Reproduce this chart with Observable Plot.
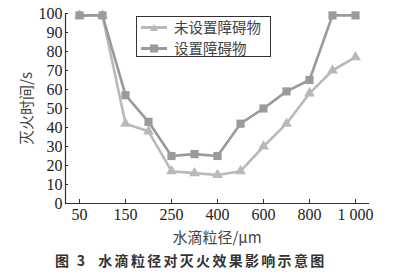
<!DOCTYPE html>
<html><head><meta charset="utf-8">
<script src="https://cdn.jsdelivr.net/npm/d3@7"></script>
<script src="https://cdn.jsdelivr.net/npm/@observablehq/plot@0.6"></script>
<style>
body{margin:0;background:#fff;}
#wrap{position:relative;width:414px;height:274px;font-family:"Liberation Serif","Noto Sans CJK SC",serif;}
#legend{position:absolute;left:136px;top:16px;width:133px;height:39px;border:1px solid #333;background:#fff;font-family:"Noto Sans CJK SC",sans-serif;font-size:14.5px;line-height:16px;color:#444;}
#legend .row{position:absolute;left:4px;height:16px;display:flex;align-items:center;}
#legend span{display:inline-block;height:16px;line-height:16px;overflow:visible;}
#legend svg{margin-right:7px;}
#cap{position:absolute;left:55px;top:251px;font-family:"Noto Sans CJK SC",sans-serif;font-weight:bold;font-size:14px;line-height:18px;color:#333;letter-spacing:2.3px;white-space:pre;}
</style></head>
<body><div id="wrap"></div>
<script>
const sizes = [50,100,150,200,250,300,400,500,600,700,800,900,1000];
const noObstacle = [99,99,42,38,17,16,15,17,30,42,58,70,77];
const withObstacle = [99,99,57,43,25,26,25,42,50,59,65,99,99];
const xTicks = [50,150,250,400,600,800,1000];
const yTicks = [0,10,20,30,40,50,60,70,80,90,100];
const seriesNames = ["未设置障碍物","设置障碍物"];
const colors = ["#b9b9b9","#9a9a9a"];

const d1 = sizes.map((s,i)=>({s, v:noObstacle[i]}));
const d2 = sizes.map((s,i)=>({s, v:withObstacle[i]}));

const chart = Plot.plot({
  width:414, height:250,
  marginTop:13, marginBottom:47, marginLeft:65, marginRight:46,
  style:{fontFamily:"'Liberation Serif','Noto Sans CJK SC',serif", fontSize:"16px", color:"#222", background:"#fff"},
  x:{type:"point", domain:sizes, padding:0.5},
  y:{domain:[0,100]},
  marks:[
    Plot.frame({anchor:"left", stroke:"#333", strokeWidth:1.2}),
    Plot.frame({anchor:"bottom", stroke:"#333", strokeWidth:1.2}),
    Plot.axisY({ticks:yTicks, tickSize:-3, tickPadding:6, stroke:"#333", label:"灭火时间/s", labelAnchor:"center", labelArrow:"none", labelOffset:44, fontSize:16}),
    Plot.axisX({ticks:xTicks, tickSize:-4, tickPadding:9, stroke:"#333", tickFormat:d=>d===1000?"1 000":String(d), label:"水滴粒径/μm", labelAnchor:"center", labelArrow:"none", labelOffset:39, fontSize:16}),
    Plot.line(d1,{x:"s",y:"v",stroke:colors[0],strokeWidth:2.6}),
    Plot.dot(d1,{x:"s",y:"v",symbol:"triangle",fill:colors[0],r:4}),
    Plot.line(d2,{x:"s",y:"v",stroke:colors[1],strokeWidth:2.6}),
    Plot.dot(d2,{x:"s",y:"v",symbol:"square",fill:colors[1],r:4.6})
  ]
});
const wrap = document.getElementById("wrap");
wrap.appendChild(chart);
chart.querySelectorAll("[aria-label='y-axis label'] text, [aria-label='x-axis label'] text").forEach(t=>{t.style.fill="#444";t.style.fontFamily="'Noto Sans CJK SC',sans-serif";t.style.fontSize="15px";});

const leg = document.createElement("div"); leg.id="legend";
seriesNames.forEach((n,i)=>{
  const row=document.createElement("div"); row.className="row"; row.style.top=(i===0?2:23)+"px";
  const sym = i===0 ? `<polygon points="13,2 17,9 9,9" fill="${colors[0]}"/>` : `<rect x="9" y="1.5" width="8" height="8" fill="${colors[1]}"/>`;
  row.innerHTML=`<svg width="26" height="11"><line x1="0" x2="26" y1="5.5" y2="5.5" stroke="${colors[i]}" stroke-width="3"/>${sym}</svg><span>${n}</span>`;
  leg.appendChild(row);
});
wrap.appendChild(leg);
const cap=document.createElement("div"); cap.id="cap"; cap.textContent="图 3  水滴粒径对灭火效果影响示意图";
wrap.appendChild(cap);
</script></body></html>
